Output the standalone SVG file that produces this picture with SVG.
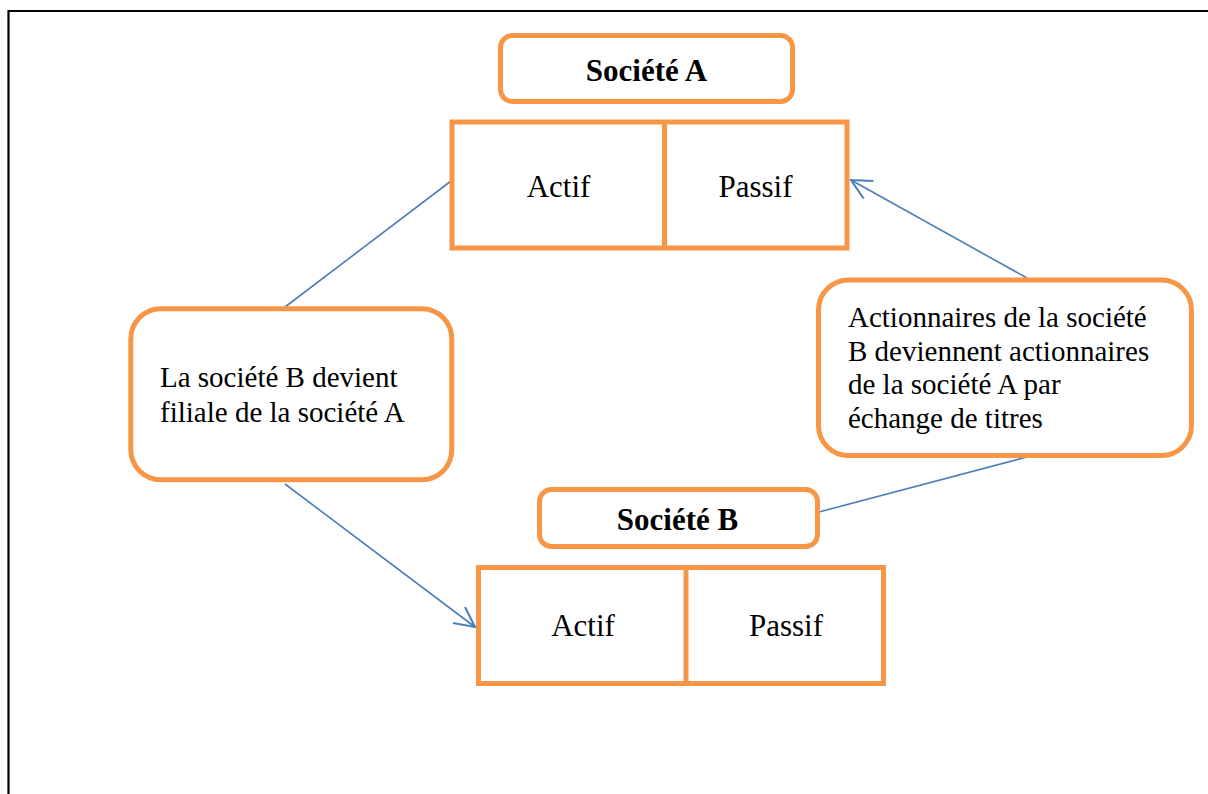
<svg xmlns="http://www.w3.org/2000/svg" width="1208" height="794" viewBox="0 0 1208 794">
  <style>
    .box { fill: #ffffff; stroke: #F79646; stroke-width: 5; }
    .conn { stroke: #4A7EBB; stroke-width: 1.6; fill: none; }
    text { font-family: 'Liberation Serif', 'DejaVu Serif', serif; fill: #000000; }
    .cell { font-size: 31px; text-anchor: middle; }
    .title { font-size: 31px; font-weight: bold; text-anchor: middle; }
    .call { font-size: 29px; }
  </style>
  <defs>
    <marker id="arrow" markerUnits="userSpaceOnUse" markerWidth="30" markerHeight="30" viewBox="-25 -15 30 30" refX="0" refY="0" orient="auto">
      <path d="M -20 -10 L 0 0 L -20 10" fill="none" stroke="#4A7EBB" stroke-width="2"/>
    </marker>
  </defs>
  <rect width="1208" height="794" fill="#ffffff"/>
  <path d="M 8.5 794 L 8.5 11 L 1208 11" fill="none" stroke="#000000" stroke-width="2.2"/>

  <g id="connectors">
    <line class="conn" x1="285" y1="307" x2="455" y2="178"/>
    <line class="conn" x1="285" y1="484" x2="475" y2="627" marker-end="url(#arrow)"/>
    <line class="conn" x1="1027" y1="278" x2="851" y2="180" marker-end="url(#arrow)"/>
    <line class="conn" x1="819" y1="512" x2="1027" y2="457"/>
  </g>

  <g id="societe-a">
    <rect class="box" x="500.5" y="35.5" width="292" height="66" rx="12"/>
    <text class="title" font-family="Liberation Serif, DejaVu Serif, serif" x="646.5" y="81">Société A</text>
  </g>

  <g id="bilan-a">
    <rect class="box" x="452" y="122" width="395" height="126"/>
    <line x1="664.5" y1="122" x2="664.5" y2="248" stroke="#F79646" stroke-width="5"/>
    <text class="cell" font-family="Liberation Serif, DejaVu Serif, serif" x="558.5" y="197">Actif</text>
    <text class="cell" font-family="Liberation Serif, DejaVu Serif, serif" x="755.5" y="197">Passif</text>
  </g>

  <g id="callout-gauche">
    <rect class="box" x="130.8" y="308.7" width="321" height="171" rx="30"/>
    <text class="call" font-family="Liberation Serif, DejaVu Serif, serif" x="160" y="387">La société B devient</text>
    <text class="call" font-family="Liberation Serif, DejaVu Serif, serif" x="160" y="422">filiale de la société A</text>
  </g>

  <g id="callout-droite">
    <rect class="box" x="818.5" y="280" width="373" height="175.5" rx="30"/>
    <text class="call" font-family="Liberation Serif, DejaVu Serif, serif" x="848" y="327">Actionnaires de la société</text>
    <text class="call" font-family="Liberation Serif, DejaVu Serif, serif" x="848" y="361">B deviennent actionnaires</text>
    <text class="call" font-family="Liberation Serif, DejaVu Serif, serif" x="848" y="394">de la société A par</text>
    <text class="call" font-family="Liberation Serif, DejaVu Serif, serif" x="848" y="428">échange de titres</text>
  </g>

  <g id="societe-b">
    <rect class="box" x="539.5" y="489.5" width="278" height="57" rx="12"/>
    <text class="title" font-family="Liberation Serif, DejaVu Serif, serif" x="677.5" y="530">Société B</text>
  </g>

  <g id="bilan-b">
    <rect class="box" x="478.5" y="567.5" width="405" height="116"/>
    <line x1="686" y1="567.5" x2="686" y2="683.5" stroke="#F79646" stroke-width="5"/>
    <text class="cell" font-family="Liberation Serif, DejaVu Serif, serif" x="583" y="636">Actif</text>
    <text class="cell" font-family="Liberation Serif, DejaVu Serif, serif" x="786" y="636">Passif</text>
  </g>
</svg>
